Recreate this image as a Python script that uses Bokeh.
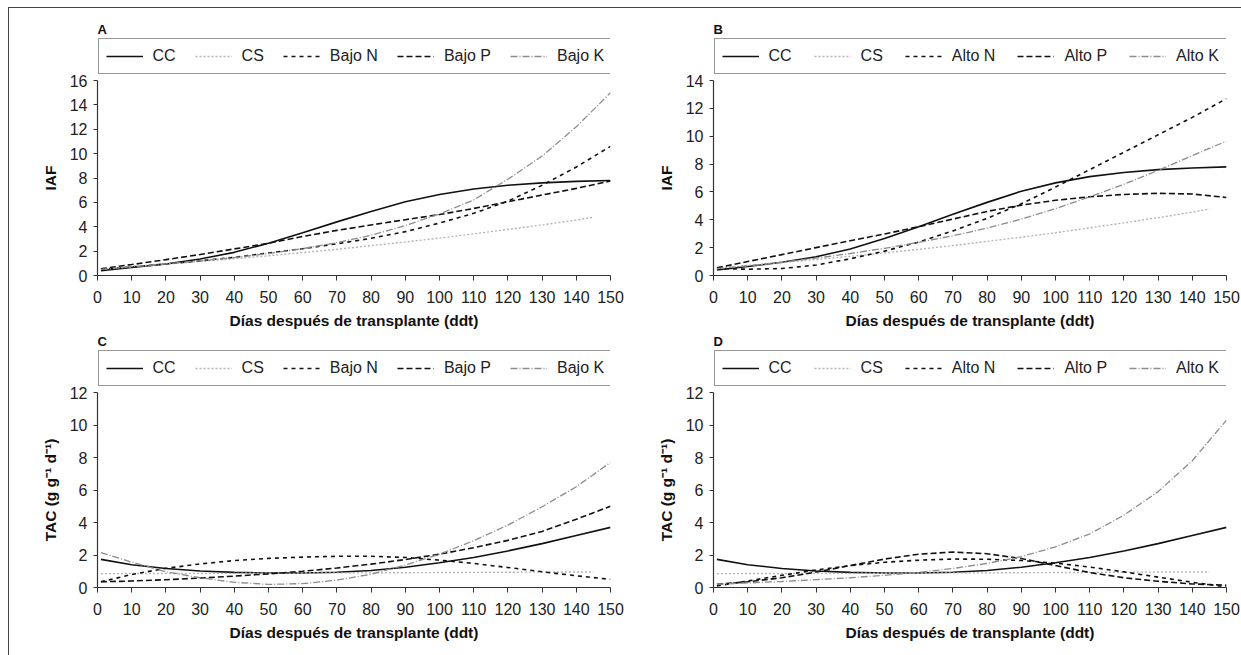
from bokeh.plotting import figure
from bokeh.models import Range1d, FixedTicker, Legend, LegendItem, Label
from bokeh.layouts import column, row
from bokeh.embed import file_html
from bokeh.resources import INLINE

# ---------------- data ----------------
DAYS = [1, 10, 20, 30, 40, 50, 60, 70, 80, 90, 100, 110, 120, 130, 140, 150]
CS_DAYS = [1, 10, 20, 30, 40, 50, 60, 70, 80, 90, 100, 110, 120, 130, 140, 145]
X_TICKS = [0, 10, 20, 30, 40, 50, 60, 70, 80, 90, 100, 110, 120, 130, 140, 150]

# Panel A / B : IAF
IAF_CC = [0.40, 0.65, 0.95, 1.35, 1.90, 2.65, 3.50, 4.40, 5.25, 6.05, 6.65, 7.10, 7.40, 7.60, 7.72, 7.80]
IAF_CS = [0.50, 0.72, 0.93, 1.15, 1.38, 1.62, 1.88, 2.15, 2.45, 2.75, 3.07, 3.42, 3.78, 4.15, 4.55, 4.78]
IAF_BAJO_N = [0.50, 0.70, 0.95, 1.20, 1.50, 1.85, 2.20, 2.60, 3.05, 3.60, 4.30, 5.10, 6.10, 7.40, 8.90, 10.60]
IAF_BAJO_P = [0.55, 0.90, 1.30, 1.72, 2.18, 2.65, 3.20, 3.70, 4.15, 4.58, 5.00, 5.50, 6.05, 6.60, 7.15, 7.75]
IAF_BAJO_K = [0.50, 0.72, 0.95, 1.20, 1.47, 1.80, 2.20, 2.70, 3.30, 4.10, 5.05, 6.20, 7.90, 9.80, 12.20, 15.00]
IAF_ALTO_N = [0.50, 0.45, 0.50, 0.75, 1.20, 1.75, 2.40, 3.20, 4.10, 5.15, 6.35, 7.60, 8.85, 10.10, 11.35, 12.70]
IAF_ALTO_P = [0.55, 1.00, 1.50, 2.00, 2.50, 2.98, 3.50, 4.05, 4.60, 5.05, 5.40, 5.65, 5.82, 5.90, 5.85, 5.60]
IAF_ALTO_K = [0.50, 0.70, 0.95, 1.25, 1.58, 1.95, 2.38, 2.85, 3.40, 4.05, 4.80, 5.65, 6.55, 7.55, 8.60, 9.65]

# Panel C / D : TAC
TAC_CC = [1.73, 1.40, 1.17, 1.02, 0.93, 0.89, 0.89, 0.94, 1.05, 1.25, 1.52, 1.85, 2.25, 2.70, 3.20, 3.70]
TAC_CS = [0.85, 0.86, 0.86, 0.87, 0.87, 0.88, 0.89, 0.90, 0.90, 0.91, 0.92, 0.93, 0.94, 0.95, 0.95, 0.96]
TAC_BAJO_N = [0.35, 0.80, 1.18, 1.45, 1.66, 1.79, 1.87, 1.92, 1.92, 1.85, 1.68, 1.48, 1.23, 0.97, 0.72, 0.50]
TAC_BAJO_P = [0.35, 0.40, 0.48, 0.58, 0.70, 0.84, 1.00, 1.20, 1.44, 1.72, 2.05, 2.45, 2.90, 3.45, 4.20, 5.00]
TAC_BAJO_K = [2.15, 1.56, 0.97, 0.60, 0.32, 0.19, 0.24, 0.45, 0.82, 1.38, 2.05, 2.88, 3.84, 4.97, 6.20, 7.70]
TAC_ALTO_N = [0.10, 0.40, 0.75, 1.08, 1.35, 1.55, 1.68, 1.75, 1.74, 1.66, 1.50, 1.26, 0.96, 0.64, 0.32, 0.04]
TAC_ALTO_P = [0.20, 0.35, 0.60, 0.95, 1.35, 1.75, 2.05, 2.18, 2.08, 1.78, 1.35, 0.92, 0.60, 0.38, 0.22, 0.14]
TAC_ALTO_K = [0.20, 0.28, 0.37, 0.48, 0.60, 0.75, 0.93, 1.17, 1.48, 1.90, 2.50, 3.30, 4.45, 5.90, 7.80, 10.30]

LABELS_BAJO = ["CC", "CS", "Bajo N", "Bajo P", "Bajo K"]
LABELS_ALTO = ["CC", "CS", "Alto N", "Alto P", "Alto K"]
X_TITLE = "Días después de transplante (ddt)"

FONT = "Liberation Sans"

STYLES = [
    dict(line_color="#111111", line_width=1.6, line_dash="solid"),
    dict(line_color="#b4b4b4", line_width=1.4, line_dash="2 2"),
    dict(line_color="#111111", line_width=1.6, line_dash="4 4"),
    dict(line_color="#111111", line_width=1.6, line_dash="6 3"),
    dict(line_color="#8c8c8c", line_width=1.3, line_dash="7 2 1 2"),
]


def make_plot(ylabel, ymax, series, width, height, mbl, mbr, mbb):
    p = figure(width=width, height=height, output_backend="svg",
               toolbar_location=None,
               x_range=Range1d(0, 150), y_range=Range1d(0, ymax),
               min_border_left=mbl, min_border_right=mbr,
               min_border_top=6, min_border_bottom=mbb)
    p.outline_line_color = None
    p.grid.visible = False

    p.xaxis.ticker = FixedTicker(ticks=X_TICKS)
    p.yaxis.ticker = FixedTicker(ticks=list(range(0, ymax + 1, 2)))
    p.xaxis.axis_label = X_TITLE
    p.yaxis.axis_label = ylabel
    for ax in (p.xaxis[0], p.yaxis[0]):
        ax.axis_line_color = "#333333"
        ax.axis_line_width = 1.2
        ax.major_tick_line_color = "#333333"
        ax.major_tick_in = 0
        ax.minor_tick_line_color = None
        ax.major_label_text_font = FONT
        ax.major_label_text_font_size = "16px"
        ax.major_label_text_color = "#222222"
        ax.axis_label_text_font = FONT
        ax.axis_label_text_font_style = "bold"
        ax.axis_label_text_font_size = "15.5px"
        ax.axis_label_text_color = "#111111"
    p.xaxis.major_tick_out = 5
    p.xaxis.major_label_standoff = 10
    p.xaxis.axis_label_standoff = 6
    p.yaxis.major_tick_out = 4
    p.yaxis.major_label_standoff = 6
    p.yaxis.axis_label_standoff = 8

    for (xs, ys), st in zip(series, STYLES):
        p.line(xs, ys, **st)
    return p


def make_header(letter, series, labels, width, height, spacing):
    h = figure(width=width, height=height, output_backend="svg",
               toolbar_location=None, min_border=0,
               x_range=Range1d(0, 150), y_range=Range1d(0, 16),
               x_axis_location=None, y_axis_location=None)
    h.outline_line_color = None
    h.grid.visible = False
    items = []
    for (xs, ys), lab, st in zip(series, labels, STYLES):
        r = h.line(xs, ys, visible=False, **st)
        items.append(LegendItem(label=lab, renderers=[r]))
    leg = Legend(items=items, orientation="horizontal",
                 location=(0.5, 0.5), margin=0, padding=7,
                 spacing=spacing, glyph_width=37, glyph_height=20,
                 label_standoff=10, label_height=20,
                 label_text_font=FONT, label_text_font_size="16px",
                 label_text_color="#222222",
                 border_line_color="#333333", border_line_width=1,
                 background_fill_color="white", background_fill_alpha=1.0)
    h.add_layout(leg, "center")
    h.add_layout(Label(x=0, y=45, x_units="screen", y_units="screen",
                       text=letter, text_font=FONT, text_font_style="bold",
                       text_font_size="13px", text_baseline="middle",
                       text_align="left", text_color="#111111"))
    return h


SER_A = [(DAYS, IAF_CC), (CS_DAYS, IAF_CS), (DAYS, IAF_BAJO_N), (DAYS, IAF_BAJO_P), (DAYS, IAF_BAJO_K)]
SER_B = [(DAYS, IAF_CC), (CS_DAYS, IAF_CS), (DAYS, IAF_ALTO_N), (DAYS, IAF_ALTO_P), (DAYS, IAF_ALTO_K)]
SER_C = [(DAYS, TAC_CC), (CS_DAYS, TAC_CS), (DAYS, TAC_BAJO_N), (DAYS, TAC_BAJO_P), (DAYS, TAC_BAJO_K)]
SER_D = [(DAYS, TAC_CC), (CS_DAYS, TAC_CS), (DAYS, TAC_ALTO_N), (DAYS, TAC_ALTO_P), (DAYS, TAC_ALTO_K)]

hA = make_header("A", SER_A, LABELS_BAJO, 620, 66, 19)
pA = make_plot("IAF", 16, SER_A, 620, 260, 88, 19, 59)
hB = make_header("B", SER_B, LABELS_ALTO, 612, 66, 22)
pB = make_plot("IAF", 14, SER_B, 612, 260, 84, 15, 59)
hC = make_header("C", SER_C, LABELS_BAJO, 620, 52, 19)
pC = make_plot("TAC (g g⁻¹ d⁻¹)", 12, SER_C, 620, 269, 88, 19, 68)
hD = make_header("D", SER_D, LABELS_ALTO, 612, 52, 22)
pD = make_plot("TAC (g g⁻¹ d⁻¹)", 12, SER_D, 612, 269, 84, 15, 68)

layout = column(row(column(hA, pA), column(hB, pB)),
                row(column(hC, pC), column(hD, pD)),
                styles={"margin-left": "8px", "margin-top": "7px",
                        "border-left": "1px solid #444444",
                        "border-top": "1px solid #444444"})

open("out.html", "w").write(file_html(layout, INLINE))
